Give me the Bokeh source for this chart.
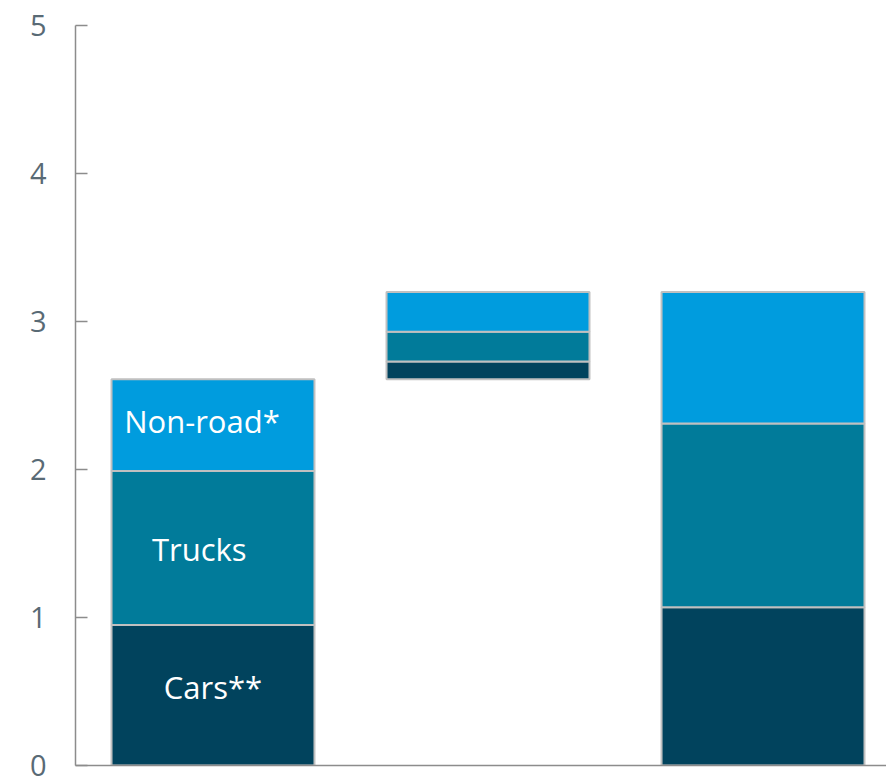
from bokeh.plotting import figure
from bokeh.models import Range1d, ColumnDataSource, FixedTicker, Label
from bokeh.embed import file_html
from bokeh.resources import INLINE

# Data
bars = [0, 1, 2]
base = [0.0, 2.61, 0.0]
cars = [0.95, 0.12, 1.07]
trucks = [1.04, 0.20, 1.24]
nonroad = [0.62, 0.27, 0.89]
series_names = ["Cars**", "Trucks", "Non-road*"]
colors = ["#01435d", "#017b9a", "#009cde"]
y_ticks = [0, 1, 2, 3, 4, 5]

p = figure(width=886, height=780, output_backend="svg", toolbar_location=None,
           x_range=Range1d(-0.5, 2.449), y_range=Range1d(0, 5),
           min_border_left=75, min_border_right=0, min_border_top=25, min_border_bottom=15)
p.grid.visible = False
p.outline_line_color = None
p.background_fill_color = "white"
p.border_fill_color = "white"

bottoms = list(base)
width = 0.738
for name, vals, col in zip(series_names, [cars, trucks, nonroad], colors):
    tops = [b + v for b, v in zip(bottoms, vals)]
    src = ColumnDataSource(dict(x=bars, bottom=bottoms, top=tops))
    p.vbar(x="x", bottom="bottom", top="top", width=width, source=src,
           fill_color=col, line_color="#c0c0c0", line_width=2)
    bottoms = tops

# inside labels on first bar
label_pos = [(0.0, 0.53), (-0.05, 1.46), (-0.04, 2.33)]
for name, (lx, ly) in zip(series_names, label_pos):
    p.add_layout(Label(x=lx, y=ly, text=name, text_align="center", text_baseline="middle",
                       text_color="white", text_font="Open Sans", text_font_size="31px"))

ya = p.yaxis[0]
ya.ticker = FixedTicker(ticks=y_ticks)
ya.major_tick_in = 12
ya.major_tick_out = 0
ya.minor_tick_line_color = None
ya.axis_line_color = "#8c8c8c"
ya.axis_line_width = 1.5
ya.major_tick_line_color = "#8c8c8c"
ya.major_tick_line_width = 1.5
ya.major_label_text_font = "Open Sans"
ya.major_label_text_font_size = "29px"
ya.major_label_text_color = "#596a75"
ya.major_label_standoff = 29

xa = p.xaxis[0]
xa.ticker = FixedTicker(ticks=[])
xa.major_tick_line_color = None
xa.minor_tick_line_color = None
xa.axis_line_color = "#8c8c8c"
xa.axis_line_width = 1.5

open("out.html", "w").write(file_html(p, INLINE))
